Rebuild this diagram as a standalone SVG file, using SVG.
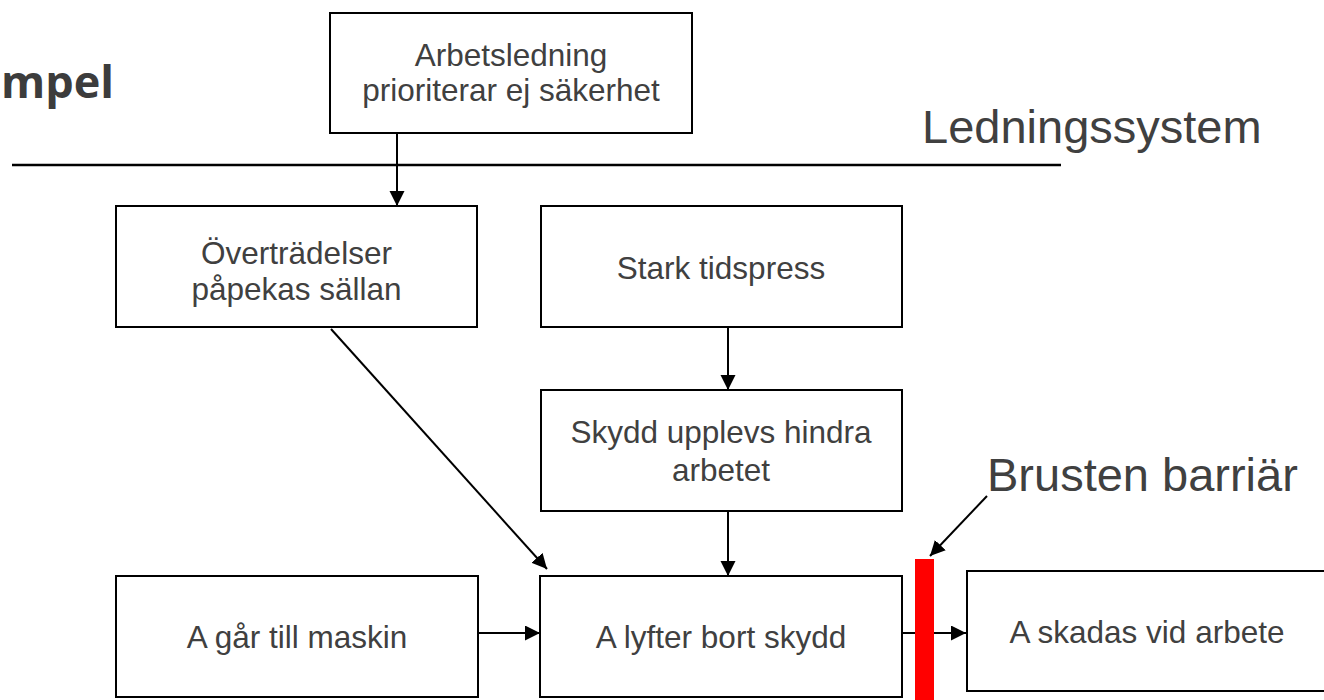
<svg xmlns="http://www.w3.org/2000/svg" width="1324" height="700" viewBox="0 0 1324 700">
  <style>
    .box { fill: #ffffff; stroke: #000000; stroke-width: 2; }
    .t { font-family: "Liberation Sans", Arial, sans-serif; font-size: 31.5px; fill: #404040; text-anchor: middle; }
    .big { font-family: "Liberation Sans", Arial, sans-serif; font-size: 47px; fill: #404040; }
    .ln { stroke: #000000; stroke-width: 2; fill: none; }
  </style>
  <defs>
    <marker id="ah" markerUnits="userSpaceOnUse" markerWidth="16" markerHeight="16" refX="15" refY="7.5" orient="auto">
      <path d="M0,0 L15,7.5 L0,15 z" fill="#000000"/>
    </marker>
  </defs>
  <rect width="1324" height="700" fill="#ffffff"/>

  <text x="1" y="98" style="font-family: 'Open Sans', sans-serif; font-weight: bold; font-size: 45px; fill: #3c3c3c;">mpel</text>
  <line x1="12" y1="165" x2="1061" y2="165" stroke="#000000" stroke-width="2.5"/>
  <text class="big" x="922" y="143">Ledningssystem</text>
  <text class="big" x="987" y="491">Brusten barriär</text>

  <g id="connectors">
    <line class="ln" x1="397" y1="133" x2="397" y2="206" marker-end="url(#ah)"/>
    <line class="ln" x1="331" y1="329" x2="547" y2="569" marker-end="url(#ah)"/>
    <line class="ln" x1="728" y1="327" x2="728" y2="390" marker-end="url(#ah)"/>
    <line class="ln" x1="728" y1="511" x2="728" y2="576" marker-end="url(#ah)"/>
    <line class="ln" x1="478" y1="633" x2="540" y2="633" marker-end="url(#ah)"/>
    <line class="ln" x1="902" y1="633" x2="966" y2="633" marker-end="url(#ah)"/>
    <line class="ln" x1="987" y1="496" x2="930" y2="556" marker-end="url(#ah)"/>
  </g>

  <g id="n-arbetsledning">
    <rect class="box" x="330" y="13" width="362" height="120"/>
    <text class="t" x="511" y="66">Arbetsledning</text>
    <text class="t" x="511" y="101">prioriterar ej säkerhet</text>
  </g>
  <g id="n-overtradelser">
    <rect class="box" x="116" y="206" width="361" height="121"/>
    <text class="t" x="296.5" y="264">Överträdelser</text>
    <text class="t" x="296.5" y="300">påpekas sällan</text>
  </g>
  <g id="n-tidspress">
    <rect class="box" x="541" y="206" width="361" height="121"/>
    <text class="t" x="721" y="279">Stark tidspress</text>
  </g>
  <g id="n-skydd">
    <rect class="box" x="541" y="390" width="361" height="121"/>
    <text class="t" x="721" y="443">Skydd upplevs hindra</text>
    <text class="t" x="721" y="481">arbetet</text>
  </g>
  <g id="n-gar">
    <rect class="box" x="116" y="576" width="362" height="121"/>
    <text class="t" x="297" y="648">A går till maskin</text>
  </g>
  <g id="n-lyfter">
    <rect class="box" x="540" y="576" width="362" height="121"/>
    <text class="t" x="721" y="648">A lyfter bort skydd</text>
  </g>
  <g id="n-skadas">
    <rect class="box" x="967" y="571" width="362" height="120"/>
    <text class="t" x="1147" y="643">A skadas vid arbete</text>
  </g>
  <g id="barrier">
    <rect x="915" y="559" width="19" height="141" fill="#ff0000"/>
  </g>
</svg>
